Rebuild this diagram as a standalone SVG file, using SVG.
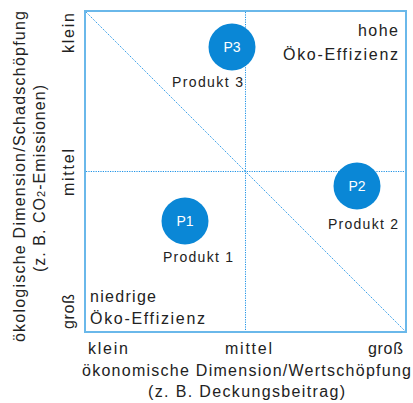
<svg xmlns="http://www.w3.org/2000/svg" width="413" height="403" viewBox="0 0 413 403">
<style>
.t{font-family:"Liberation Sans","DejaVu Sans",sans-serif;fill:#222;}
.s{font-size:14px;}
.m{font-size:16px;}
.c{fill:#0a87d6;}
.ct{font-family:"Liberation Sans","DejaVu Sans",sans-serif;font-size:14px;fill:#fff;text-anchor:middle;}
.dot{stroke:#1f93e6;stroke-width:1;stroke-dasharray:1.2 1.2;fill:none;}
.frame{stroke:#6ab8ea;stroke-width:2;fill:none;}
</style>
<rect width="413" height="403" fill="#fff"/>
<g id="connectors">
<rect class="frame" x="85" y="11" width="321" height="321"/>
<line class="dot" x1="245.5" y1="12" x2="245.5" y2="331"/>
<line class="dot" x1="86" y1="171.5" x2="405" y2="171.5"/>
<line class="dot" x1="86" y1="12" x2="405" y2="331"/>
</g>
<g id="p3">
<circle class="c" cx="232" cy="47" r="23.5"/>
<text class="ct" x="232" y="52">P3</text>
<text class="t s" x="172" y="87" textLength="71" lengthAdjust="spacing">Produkt 3</text>
</g>
<g id="p2">
<circle class="c" cx="357" cy="186" r="23.5"/>
<text class="ct" x="357" y="191">P2</text>
<text class="t s" x="328" y="229" textLength="70" lengthAdjust="spacing">Produkt 2</text>
</g>
<g id="p1">
<circle class="c" cx="185" cy="221" r="23.5"/>
<text class="ct" x="185" y="226">P1</text>
<text class="t s" x="163" y="262" textLength="70" lengthAdjust="spacing">Produkt 1</text>
</g>
<g id="hohe">
<text class="t m" x="358" y="36" textLength="40" lengthAdjust="spacing">hohe</text>
<text class="t m" x="283" y="60" textLength="115" lengthAdjust="spacing">Öko-Effizienz</text>
</g>
<g id="niedrige">
<text class="t m" x="90" y="302" textLength="66" lengthAdjust="spacing">niedrige</text>
<text class="t m" x="90" y="324" textLength="115" lengthAdjust="spacing">Öko-Effizienz</text>
</g>
<g id="x-axis">
<text class="t m" x="88" y="354" textLength="40" lengthAdjust="spacing">klein</text>
<text class="t m" x="225" y="354" textLength="47" lengthAdjust="spacing">mittel</text>
<text class="t m" x="368" y="354" textLength="35" lengthAdjust="spacing">groß</text>
<text class="t m" x="82" y="376" textLength="329" lengthAdjust="spacing">ökonomische Dimension/Wertschöpfung</text>
<text class="t m" x="148" y="397" textLength="197" lengthAdjust="spacing">(z. B. Deckungsbeitrag)</text>
</g>
<g id="y-axis">
<text class="t m" transform="translate(74,53) rotate(-90)" textLength="40" lengthAdjust="spacing">klein</text>
<text class="t m" transform="translate(74,196) rotate(-90)" textLength="47" lengthAdjust="spacing">mittel</text>
<text class="t m" transform="translate(74,329) rotate(-90)" textLength="35" lengthAdjust="spacing">groß</text>
<text class="t m" transform="translate(25,342) rotate(-90)" textLength="331" lengthAdjust="spacing">ökologische Dimension/Schadschöpfung</text>
<text class="t m" transform="translate(45,272) rotate(-90)" textLength="187" lengthAdjust="spacing">(z. B. CO<tspan font-size="11">2</tspan>-Emissionen)</text>
</g>
</svg>
